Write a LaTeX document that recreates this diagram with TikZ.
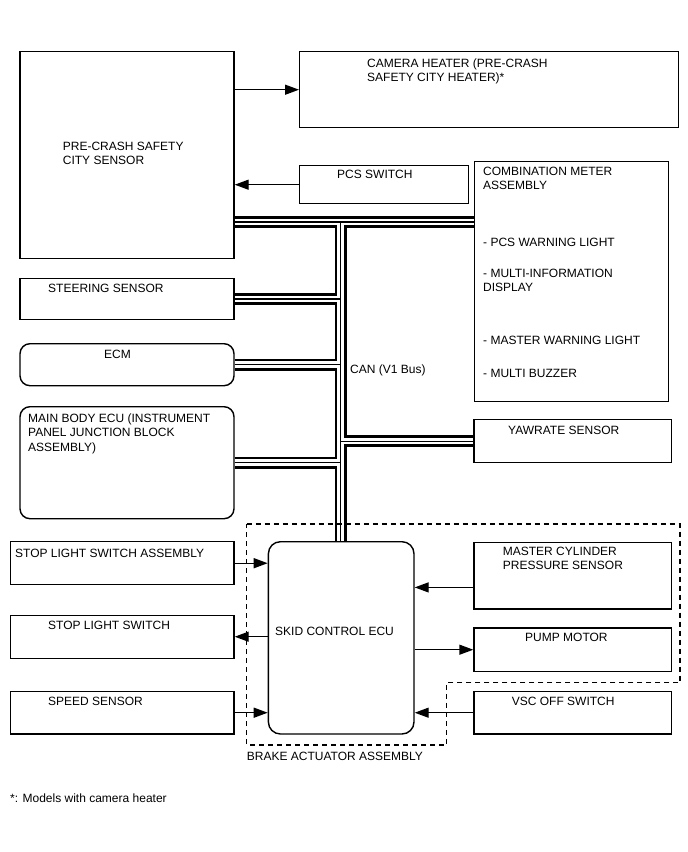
\documentclass[tikz,border=0pt]{standalone}
\usepackage{fontspec}
\setmainfont{Liberation Sans}
\usetikzlibrary{arrows.meta,calc}
\begin{document}
\begin{tikzpicture}[x=1pt,y=-1pt,
  box/.style={draw, line width=1.4pt, inner sep=0pt, anchor=north west},
  rbox/.style={box, rounded corners=10pt},
  txt/.style={anchor=base west, inner sep=0pt, align=left, font=\fontsize{12}{14.3}\selectfont},
  arr/.style={line width=1.4pt, -{Triangle[length=14pt,width=10pt]}},
  zone/.style={line width=1.2pt, dash pattern=on 5pt off 4pt}]
\useasboundingbox (0,0) rectangle (688,852);
% boxes
\node[box, minimum width=214pt, minimum height=207pt] (pcs) at (19.3,51) {};
\node[box, minimum width=379pt, minimum height=76pt] (cam) at (299,51) {};
\node[box, minimum width=169pt, minimum height=38pt] (psw) at (299,165) {};
\node[box, minimum width=194pt, minimum height=240pt] (meter) at (474,161) {};
\node[box, minimum width=214pt, minimum height=40.5pt] (steer) at (19.3,278) {};
\node[rbox, minimum width=214pt, minimum height=42pt] (ecm) at (19.3,343) {};
\node[rbox, minimum width=214pt, minimum height=112pt] (mbe) at (19.3,406) {};
\node[box, minimum width=197.4pt, minimum height=43pt] (yaw) at (473.3,419) {};
\node[box, minimum width=223.3pt, minimum height=43pt] (sla) at (10,541) {};
\node[box, minimum width=223.3pt, minimum height=43pt] (sls) at (10,614.5) {};
\node[box, minimum width=223.3pt, minimum height=42.6pt] (spd) at (10,690.7) {};
\node[box, rounded corners=12pt, minimum width=145.6pt, minimum height=192.3pt] (skid) at (267.7,541) {};
\node[box, minimum width=197.4pt, minimum height=66.6pt] (mcp) at (473.3,541.7) {};
\node[box, minimum width=197.4pt, minimum height=43.4pt] (pump) at (473.3,627.3) {};
\node[box, minimum width=197.4pt, minimum height=42.6pt] (vsc) at (473.3,690.7) {};
% CAN bus
\coordinate (t1) at (340.5,222);
\foreach \w/\c in {12/black, 6.5/white, 1.4/black}{
  \draw[line width=\w pt, \c] (pcs.east |- t1) -- (meter.west |- t1);
  \draw[line width=\w pt, \c] (t1) -- (skid.north -| t1);
  \draw[line width=\w pt, \c] (steer.east) -- (steer.east -| t1);
  \draw[line width=\w pt, \c] (ecm.east) -- (ecm.east -| t1);
  \draw[line width=\w pt, \c] (mbe.east) -- (mbe.east -| t1);
  \draw[line width=\w pt, \c] (yaw.west -| t1) -- (yaw.west);
}
% arrows
\draw[arr] (pcs.east |- cam.west) -- (cam.west);
\draw[arr] (psw.west) -- (psw.west -| pcs.east);
\draw[arr] (sla.east) -- (sla.east -| skid.west);
\draw[arr] (sls.east -| skid.west) -- (sls.east);
\draw[arr] (spd.east) -- (spd.east -| skid.west);
\coordinate (mcpa) at ($(mcp.west)+(0,11.7)$);
\draw[arr] (mcpa) -- (mcpa -| skid.east);
\draw[arr] (pump.west -| skid.east) -- (pump.west);
\draw[arr] (vsc.west) -- (vsc.west -| skid.east);
% brake actuator zone
\draw[zone] (246.5,524) -- (680,524) -- (680,682.8) -- (446.3,682.8) -- (446.3,745) -- (246.5,745) -- cycle;
% texts (base anchor = baseline of last line)
\node[txt] (tcam) at (367,81.8) {CAMERA HEATER (PRE-CRASH\\SAFETY CITY HEATER)*};
\node[txt] (tpcs) at (62.7,164.3) {PRE-CRASH SAFETY\\CITY SENSOR};
\node[txt] (tpsw) at (337,178.5) {PCS SWITCH};
\node[txt] (tmet) at (483,189.8) {COMBINATION METER\\ASSEMBLY};
\node[txt] (tm1) at (483,246.5) {- PCS WARNING LIGHT};
\node[txt] (tm2) at (483,291.8) {- MULTI-INFORMATION\\DISPLAY};
\node[txt] (tm3) at (483,344.5) {- MASTER WARNING LIGHT};
\node[txt] (tm4) at (483,377.5) {- MULTI BUZZER};
\node[txt] (tste) at (48,292.5) {STEERING SENSOR};
\node[txt] (tecm) at (104,358.5) {ECM};
\node[txt] (tmbe) at (28,451.1) {MAIN BODY ECU (INSTRUMENT\\PANEL JUNCTION BLOCK\\ASSEMBLY)};
\node[txt] (tcan) at (350,373.5) {CAN (V1 Bus)};
\node[txt] (tyaw) at (508,434.5) {YAWRATE SENSOR};
\node[txt] (tsla) at (15,557.5) {STOP LIGHT SWITCH ASSEMBLY};
\node[txt] (tsls) at (48,629.5) {STOP LIGHT SWITCH};
\node[txt] (tspd) at (48,705.5) {SPEED SENSOR};
\node[txt] (tskid) at (275,635) {SKID CONTROL ECU};
\node[txt] (tmcp) at (502.7,569.3) {MASTER CYLINDER\\PRESSURE SENSOR};
\node[txt] (tpump) at (525,641.7) {PUMP MOTOR};
\node[txt] (tvsc) at (511.7,705) {VSC OFF SWITCH};
\node[txt] (tbrk) at (246.7,760.7) {BRAKE ACTUATOR ASSEMBLY};
\node[txt] (tfoot) at (10,802.5) {*: Models with camera heater};
\end{tikzpicture}
\end{document}
